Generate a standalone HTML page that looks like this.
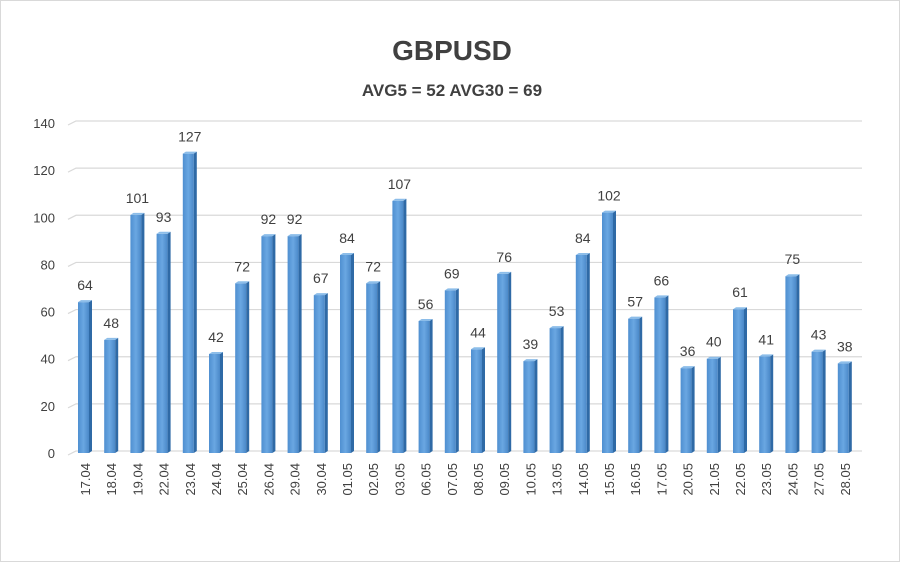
<!DOCTYPE html>
<html><head><meta charset="utf-8"><style>
body{margin:0;background:#fff;}
svg{display:block;font-family:"Liberation Sans",sans-serif;}
</style></head><body>
<svg id="c" width="900" height="562">
<rect x="0.5" y="0.5" width="899" height="561" fill="#fff" stroke="#d9d9d9"/>
<text x="452" y="60" text-anchor="middle" font-size="28" font-weight="bold" fill="#404040">GBPUSD</text>
<text x="452" y="96" text-anchor="middle" font-size="17" font-weight="bold" fill="#404040">AVG5 = 52 AVG30 = 69</text>
<g id="grid"></g><g id="bars"></g><g id="labels"></g>
</svg>
<script>
const categories=["17.04","18.04","19.04","22.04","23.04","24.04","25.04","26.04","29.04","30.04","01.05","02.05","03.05","06.05","07.05","08.05","09.05","10.05","13.05","14.05","15.05","16.05","17.05","20.05","21.05","22.05","23.05","24.05","27.05","28.05"];
const values=[64,48,101,93,127,42,72,92,92,67,84,72,107,56,69,44,76,39,53,84,102,57,66,36,40,61,41,75,43,38];
const yTicks=[0,20,40,60,80,100,120,140];
const NS="http://www.w3.org/2000/svg";
const y0=453,yTop=123,yMax=140;
function y(v){return y0-(v/yMax)*(y0-yTop);}
function x(i){return 85+i*26.2;}
function mk(t,a,p){const e=document.createElementNS(NS,t);for(const k in a)e.setAttribute(k,a[k]);p.appendChild(e);return e;}
const grid=document.getElementById('grid'),bars=document.getElementById('bars'),labels=document.getElementById('labels');
yTicks.forEach(t=>{
 const yy=y(t);
 const l=mk('polyline',{points:`68,${yy+2} 76,${yy-2} 862,${yy-2}`,fill:'none',stroke:'#d9d9d9','stroke-width':1.2},grid);
 
 
 const tx=mk('text',{x:55,y:yy+5,'text-anchor':'end','font-size':13,fill:'#404040'},grid);
 tx.textContent=t;
 
 
});
const defs=mk('defs',{},document.getElementById('c'));
const g=mk('linearGradient',{id:'gf',x1:0,x2:1,y1:0,y2:0},defs);
mk('stop',{offset:0,'stop-color':'#4f8fd0'},g);mk('stop',{offset:0.5,'stop-color':'#6aa7e2'},g);mk('stop',{offset:1,'stop-color':'#4a88c8'},g);
values.forEach((v,i)=>{
 const cx=x(i),yy=y(v),fx=cx-7,w=11,d=3;
 const grp=mk('g',{},bars);
 
 
 mk('rect',{x:fx,y:yy,width:w,height:y0-yy,fill:'url(#gf)'},grp);
 mk('polygon',{points:`${fx+w},${yy} ${fx+w+d},${yy-2} ${fx+w+d},${y0-2} ${fx+w},${y0}`,fill:'#2f6aa6'},grp);
 mk('polygon',{points:`${fx},${yy} ${fx+d},${yy-2} ${fx+w+d},${yy-2} ${fx+w},${yy}`,fill:'#8cbde9'},grp);
 const t=mk('text',{x:cx,y:yy-12,'text-anchor':'middle','font-size':14,fill:'#404040'},labels);
 t.textContent=v;
 
 
 const c=mk('text',{x:0,y:0,'text-anchor':'end','font-size':13,fill:'#404040',transform:`translate(${cx+5},463) rotate(-90)`},labels);
 c.textContent=categories[i];
 
 
});
</script>
</body></html>
